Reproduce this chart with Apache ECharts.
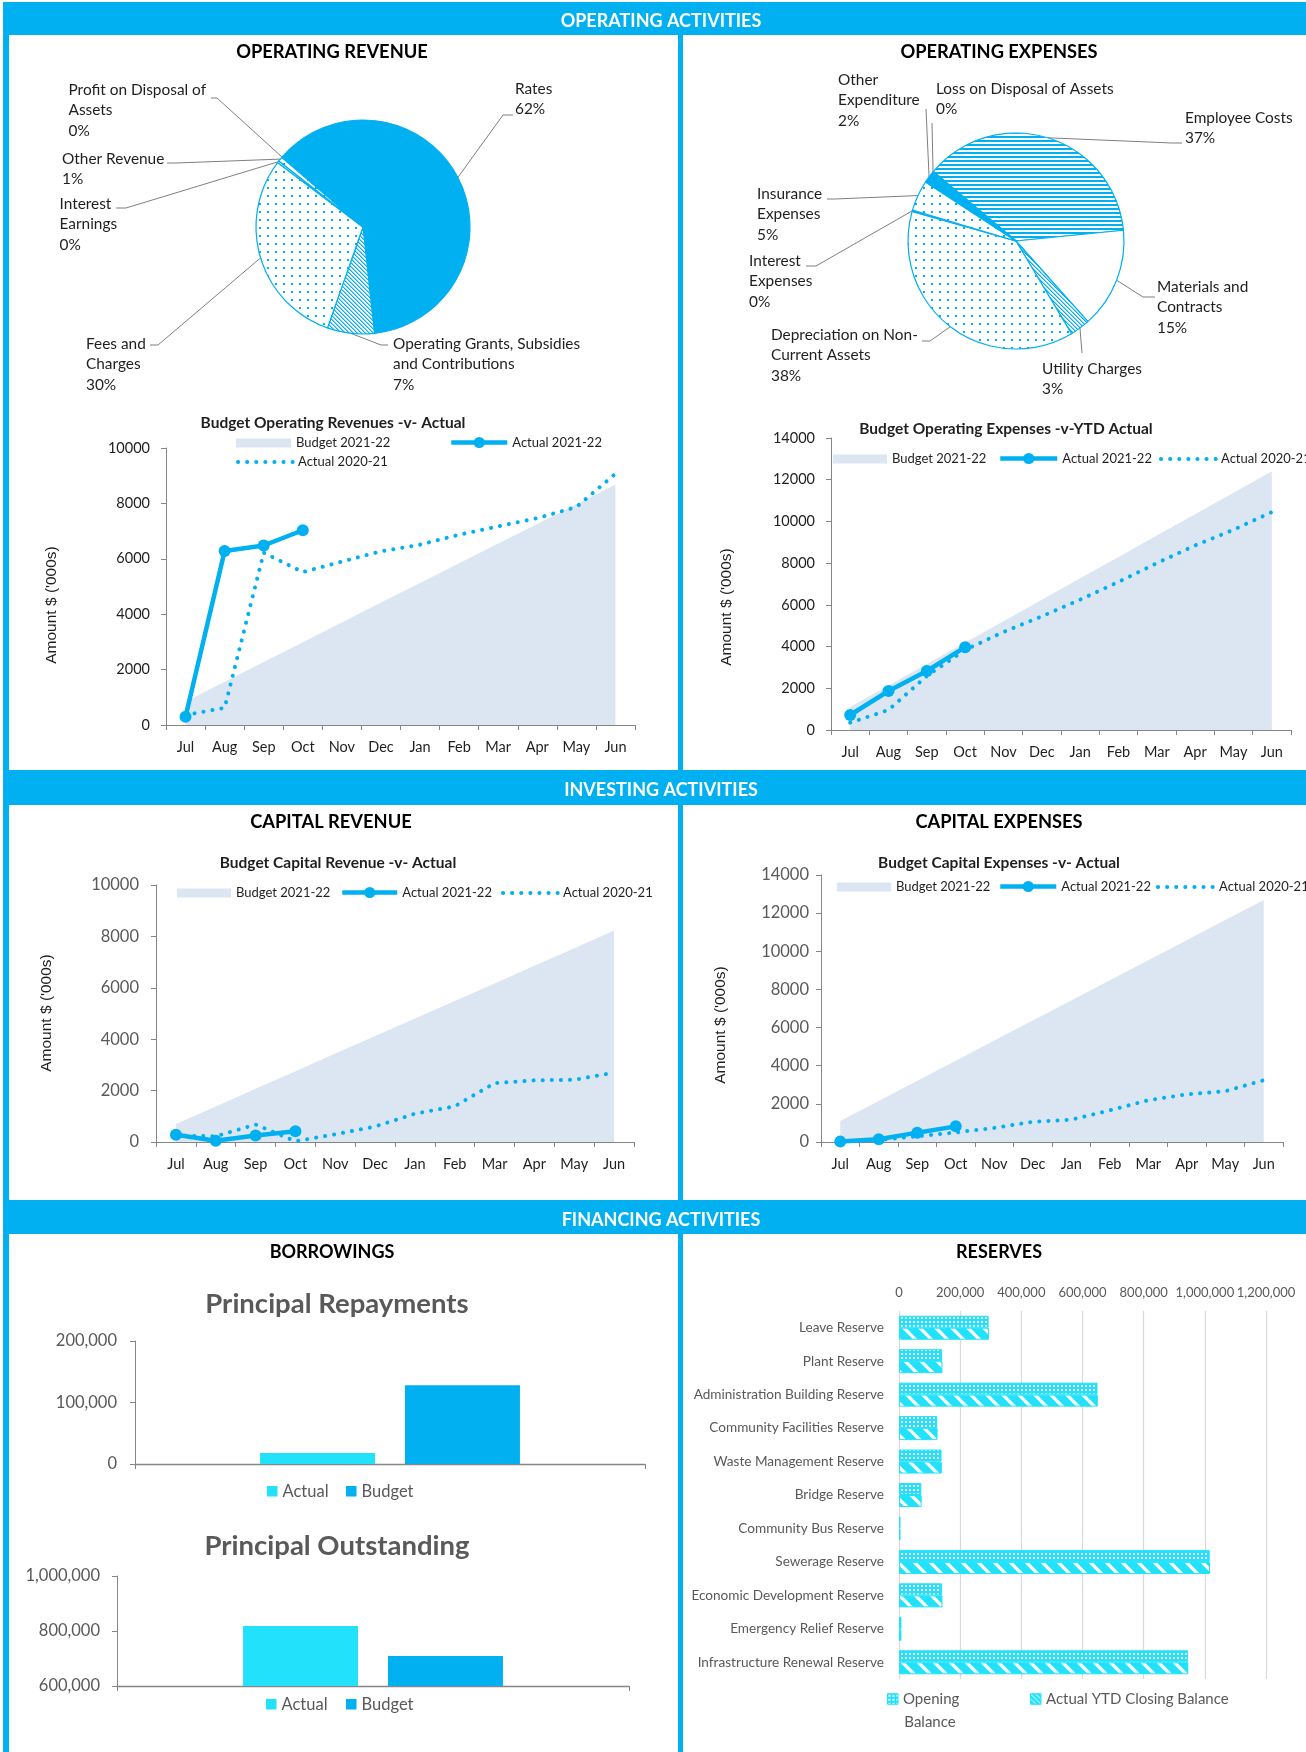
<!DOCTYPE html>
<html><head><meta charset="utf-8">
<script src="https://cdn.jsdelivr.net/npm/echarts/dist/echarts.min.js"></script>
<style>html,body{margin:0;padding:0;background:#fff}#c{width:1306px;height:1752px}</style>
</head><body><div id="c"></div><script>
// ---------------- DATA ----------------
const months = ['Jul','Aug','Sep','Oct','Nov','Dec','Jan','Feb','Mar','Apr','May','Jun'];

const revCats = ['Rates', 'Operating Grants, Subsidies\nand Contributions', 'Fees and\nCharges', 'Interest\nEarnings', 'Other Revenue', 'Profit on Disposal of\nAssets'];
const revShares = [61.9, 7.1, 29.9, 0.3, 0.7, 0.1];

const expCats = ['Employee Costs', 'Materials and\nContracts', 'Utility Charges', 'Depreciation on Non-\nCurrent Assets', 'Interest\nExpenses', 'Insurance\nExpenses', 'Other\nExpenditure', 'Loss on Disposal of Assets'];
const expShares = [37.3, 15.0, 3.0, 38.0, 0.2, 4.6, 1.8, 0.1];

const opRevBudget = [840, 1560, 2270, 2990, 3700, 4420, 5130, 5840, 6550, 7260, 7970, 8680];
const opRevActual = [300, 6280, 6480, 7030];
const opRevPrior  = [360, 620, 6220, 5520, 5900, 6270, 6510, 6870, 7170, 7470, 7870, 9070];

const opExpBudget = [1100, 2130, 3160, 4190, 5210, 6240, 7270, 8300, 9320, 10350, 11380, 12400];
const opExpActual = [720, 1870, 2830, 3970];
const opExpPrior  = [350, 960, 2590, 3840, 4700, 5450, 6250, 7100, 8000, 8850, 9600, 10450];

const capRevBudget = [700, 1380, 2070, 2750, 3440, 4120, 4810, 5490, 6170, 6860, 7540, 8230];
const capRevActual = [280, 50, 250, 420];
const capRevPrior  = [250, 220, 680, 30, 300, 600, 1100, 1390, 2290, 2400, 2420, 2700];

const capExpBudget = [1100, 2150, 3210, 4260, 5320, 6370, 7420, 8480, 9530, 10580, 11640, 12690];
const capExpActual = [20, 140, 490, 820];
const capExpPrior  = [20, 110, 300, 500, 740, 1060, 1170, 1660, 2190, 2500, 2660, 3240];

const repayActual = [18000];
const repayBudget = [128000];
const outstandingActual = [818000];
const outstandingBudget = [709000];

const reserveCats = ['Leave Reserve','Plant Reserve','Administration Building Reserve','Community Facilities Reserve','Waste Management Reserve','Bridge Reserve','Community Bus Reserve','Sewerage Reserve','Economic Development Reserve','Emergency Relief Reserve','Infrastructure Renewal Reserve'];
const reserveOpening = [293000, 141000, 649000, 125000, 139000, 73000, 5000, 1016000, 141000, 8000, 945000];
const reserveClosing = [294000, 142000, 650000, 126000, 140000, 74000, 5000, 1017000, 142000, 8000, 946000];

const opRevTicks = {min: 0, max: 10000, step: 2000};
const opExpTicks = {min: 0, max: 14000, step: 2000};
const capRevTicks = {min: 0, max: 10000, step: 2000};
const capExpTicks = {min: 0, max: 14000, step: 2000};
const repayTicks = {min: 0, max: 200000, step: 100000};
const outstTicks = {min: 600000, max: 1000000, step: 200000};
const reserveTicks = {min: 0, max: 1200000, step: 200000};

// ---------------- STYLE ----------------
const BLUE = '#00B0F0', CYAN = '#21E1FB', BUD = '#DCE6F2', AX = '#868686', GREY = '#595959', DARK = '#1f1f1f';
const F = 'Lato, "Open Sans", sans-serif';
const FA = '"Liberation Sans", Arial, sans-serif';

function pat(w, h, draw) {
  const c = document.createElement('canvas'); c.width = w; c.height = h;
  const g = c.getContext('2d'); draw(g); return {image: c, repeat: 'repeat'};
}
const pDots = pat(8, 8, g => { g.fillStyle = '#fff'; g.fillRect(0,0,8,8); g.fillStyle = BLUE; g.fillRect(3,3,2,2); });
const pHatch = pat(4, 4, g => { g.fillStyle = '#fff'; g.fillRect(0,0,4,4); g.fillStyle = BLUE; for (let i=0;i<4;i++) g.fillRect(i,i,1,1); g.globalAlpha=0.5; for (let i=0;i<4;i++) g.fillRect((i+1)%4,i,1,1); });
const pHoriz = pat(4, 4, g => { g.fillStyle = '#fff'; g.fillRect(0,0,4,4); g.fillStyle = BLUE; g.fillRect(0,0,4,2); });
const pResOpen = pat(4, 4, g => { g.fillStyle = CYAN; g.fillRect(0,0,4,4); g.fillStyle = '#fff'; g.fillRect(1,1,2,2); });
const pResClose = pat(16, 16, g => {
  g.fillStyle = '#fff'; g.fillRect(0,0,16,16);
  g.strokeStyle = CYAN; g.lineWidth = 8;
  for (let k=-16;k<=16;k+=16) { g.beginPath(); g.moveTo(k-4,-4); g.lineTo(k+20,20); g.stroke(); }
});
const pLegClose = pat(5, 5, g => {
  g.fillStyle = CYAN; g.fillRect(0,0,5,5); g.fillStyle = '#fff';
  for (let i=0;i<5;i++) g.fillRect(i,i,1,1);
});

const revFills = [BLUE, pHatch, pDots, '#fff', pDots, '#fff'];
const expFills = [pHoriz, '#fff', pHatch, pDots, '#fff', pDots, BLUE, '#fff'];

// label layout: [textLeft, firstLineCenterY, elbowX, elbowY, endX, endY]
const LH = 20.5;
const revLabelPos = [
  [515, 89, 503, 115, 513, 115],
  [393, 344, 381, 345, 388, 345],
  [86, 344, 158, 345, 150, 345],
  [59.5, 204, 126, 208, 116, 208],
  [62, 159, 176, 163, 167, 163],
  [68.5, 90, 217, 98, 211, 98]
];
const expLabelPos = [
  [1185, 118, 1172, 143, 1182, 143],
  [1157, 287, 1143, 297, 1155, 297],
  [1042, 369, 1082, 353, 1082, 353],
  [771, 335, 930, 341, 922, 341],
  [749, 261, 816, 266, 806, 266],
  [757, 194, 835, 199, 827, 199],
  [838, 80, 926, 109, 926, 109],
  [936, 89, 932, 123, 932, 123]
];
function mkLayout(pos) {
  return function (p) {
    const L = pos[p.dataIndex];
    const r = {x: L[0], y: L[1] - LH / 2, align: 'left', verticalAlign: 'top'};
    const pts = p.labelLinePoints;
    if (pts && pts[0]) r.labelLinePoints = [pts[0], [L[2], L[3]], [L[4], L[5]]];
    return r;
  };
}
function pie(center, r, start, cats, shares, fills, pos) {
  return {
    type: 'pie', center, radius: r, startAngle: start, clockwise: true, avoidLabelOverlap: false, silent: true,
    data: cats.map((n, i) => ({name: n, value: shares[i], itemStyle: {color: fills[i]}})),
    itemStyle: {borderColor: BLUE, borderWidth: 1.2},
    label: {show: true, position: 'outside', formatter: p => p.name + '\n' + Math.round(p.percent) + '%',
      fontSize: 15.4, lineHeight: LH, color: DARK, fontFamily: F},
    labelLine: {show: true, length: 6, length2: 6, lineStyle: {color: '#7f7f7f', width: 1}},
    labelLayout: mkLayout(pos),
    emphasis: {disabled: true}
  };
}

const plain = v => String(v);
const fmtNum = v => Number(v).toLocaleString('en-US');

function catAxis(gi) {
  return {gridIndex: gi, type: 'category', data: months, boundaryGap: true,
    axisLine: {show: true, lineStyle: {color: AX, width: 1}},
    axisTick: {show: true, length: 5, lineStyle: {color: AX}},
    axisLabel: {show: true, interval: 0, margin: 15, fontSize: 14.5, color: DARK, fontFamily: F},
    splitLine: {show: false}};
}
function valAxis(gi, t, size, color, margin, fmt) {
  return {gridIndex: gi, type: 'value', min: t.min, max: t.max, interval: t.step, startValue: t.min,
    axisLine: {show: true, lineStyle: {color: AX}},
    axisTick: {show: true, length: 5, lineStyle: {color: AX}},
    axisLabel: {fontSize: size, color, margin, fontFamily: F, formatter: fmt || plain},
    splitLine: {show: false}};
}
function lines(gi, budget, actual, prior) {
  return [
    {type: 'line', name: 'Budget 2021-22', xAxisIndex: gi, yAxisIndex: gi, data: budget, symbol: 'none',
      lineStyle: {width: 0}, itemStyle: {color: BUD}, areaStyle: {color: BUD, opacity: 1}, silent: true, z: 1},
    {type: 'line', name: 'Actual 2020-21', xAxisIndex: gi, yAxisIndex: gi, data: prior, symbol: 'none',
      lineStyle: {color: BLUE, width: 4, type: [0.1, 9], cap: 'round'}, itemStyle: {color: BLUE}, silent: true, z: 2},
    {type: 'line', name: 'Actual 2021-22', xAxisIndex: gi, yAxisIndex: gi, data: actual, symbol: 'circle', symbolSize: 12,
      showAllSymbol: true, lineStyle: {color: BLUE, width: 4.5}, itemStyle: {color: BLUE}, silent: true, z: 3}
  ];
}
function legLine(kind, left, cy, iw) {
  const base = {left, padding: 0, itemWidth: iw, selectedMode: false,
    textStyle: {fontSize: 13, color: DARK, fontFamily: F}};
  if (kind === 'b') return Object.assign(base, {top: cy - 6.5, itemHeight: 9,
    data: [{name: 'Budget 2021-22', icon: 'rect', itemStyle: {color: BUD, borderWidth: 0}}]});
  if (kind === 'a') return Object.assign(base, {top: cy - 7, itemHeight: 14, lineStyle: {width: 4.5},
    itemStyle: {borderWidth: 0}, data: [{name: 'Actual 2021-22'}]});
  return Object.assign(base, {top: cy - 6.5, itemHeight: 8, lineStyle: {width: 4, type: [0.1, 9], cap: 'round'},
    data: [{name: 'Actual 2020-21', itemStyle: {opacity: 0, borderWidth: 0}}]});
}
function legBar(name, left, cy, size, color, fmt, itemStyle) {
  return {left, top: cy - size / 2 - 1, padding: 0, itemWidth: 10.5, itemHeight: 10.5, selectedMode: false,
    icon: 'rect', itemStyle: itemStyle || {borderWidth: 0}, formatter: fmt || (n => n),
    textStyle: {fontSize: size, color, fontFamily: F}, data: [name]};
}
function txt(x, y, text, size, weight, color, family, rot) {
  return {type: 'text', x, y, rotation: rot || 0, z: 10, silent: true,
    style: {text, fontSize: size, fontWeight: weight, fill: color, fontFamily: family || F,
      align: 'center', verticalAlign: 'middle', textAlign: 'center', textVerticalAlign: 'middle'}};
}
function rect(x, y, w, h) { return {type: 'rect', shape: {x, y, width: w, height: h}, style: {fill: BLUE}, z: 5, silent: true}; }

const option = {
  animation: false,
  textStyle: {fontFamily: F},
  graphic: [
    rect(3, 2, 6, 1750),
    rect(3, 2, 1303, 33),
    rect(678, 35, 5, 1717),
    rect(3, 770, 1303, 35),
    rect(3, 1200, 1303, 34),
    txt(661, 21, 'OPERATING ACTIVITIES', 18, 'bold', '#fff'),
    txt(661, 790, 'INVESTING ACTIVITIES', 18, 'bold', '#fff'),
    txt(661, 1220, 'FINANCING ACTIVITIES', 18, 'bold', '#fff'),
    txt(332, 52, 'OPERATING REVENUE', 18.3, 'bold', '#000'),
    txt(999, 52, 'OPERATING EXPENSES', 18.3, 'bold', '#000'),
    txt(331, 822, 'CAPITAL REVENUE', 18.3, 'bold', '#000'),
    txt(999, 822, 'CAPITAL EXPENSES', 18.3, 'bold', '#000'),
    txt(332, 1252, 'BORROWINGS', 18, 'bold', '#000'),
    txt(999, 1252, 'RESERVES', 18, 'bold', '#000'),
    txt(333, 423, 'Budget Operating Revenues -v- Actual', 15.5, 'bold', DARK),
    txt(1006, 429, 'Budget Operating Expenses -v-YTD Actual', 15.5, 'bold', DARK),
    txt(338, 863, 'Budget Capital Revenue -v- Actual', 15.5, 'bold', DARK),
    txt(999, 863, 'Budget Capital Expenses -v- Actual', 15.5, 'bold', DARK),
    txt(337, 1304, 'Principal Repayments', 27.5, 'bold', GREY),
    txt(337, 1546, 'Principal Outstanding', 27.5, 'bold', GREY),
    txt(52, 605, "Amount $ ('000s)", 15.5, 'normal', DARK, FA, Math.PI / 2),
    txt(727, 607, "Amount $ ('000s)", 15.5, 'normal', DARK, FA, Math.PI / 2),
    txt(47, 1013, "Amount $ ('000s)", 15.5, 'normal', DARK, FA, Math.PI / 2),
    txt(721, 1025, "Amount $ ('000s)", 15.5, 'normal', DARK, FA, Math.PI / 2),
    txt(930, 1722, 'Balance', 15, 'normal', GREY)
  ],
  grid: [
    {left: 166, top: 448, width: 469, height: 277},
    {left: 831, top: 438, width: 460, height: 292},
    {left: 156, top: 885, width: 478, height: 257},
    {left: 821, top: 875, width: 462, height: 267},
    {left: 135, top: 1341, width: 510, height: 123},
    {left: 117, top: 1576, width: 512, height: 110},
    {left: 899, top: 1311, width: 367, height: 368}
  ].map(g => Object.assign(g, {containLabel: false, outerBoundsMode: 'none'})),
  xAxis: [
    catAxis(0), catAxis(1), catAxis(2), catAxis(3),
    {gridIndex: 4, type: 'category', data: [''], axisLine: {show: true, lineStyle: {color: AX, width: 1.3}},
      axisTick: {show: true, length: 5, lineStyle: {color: AX}}, axisLabel: {show: false}, splitLine: {show: false}},
    {gridIndex: 5, type: 'category', data: [''], axisLine: {show: true, lineStyle: {color: AX, width: 1.3}},
      axisTick: {show: true, length: 5, lineStyle: {color: AX}}, axisLabel: {show: false}, splitLine: {show: false}},
    {gridIndex: 6, type: 'value', position: 'top', min: reserveTicks.min, max: reserveTicks.max, interval: reserveTicks.step,
      axisLine: {show: false}, axisTick: {show: false},
      axisLabel: {formatter: fmtNum, fontSize: 13, color: GREY, margin: 12, fontFamily: F},
      splitLine: {show: true, lineStyle: {color: '#D9D9D9', width: 1.2}}}
  ],
  yAxis: [
    valAxis(0, opRevTicks, 14.5, DARK, 16),
    valAxis(1, opExpTicks, 14.5, DARK, 16),
    valAxis(2, capRevTicks, 16.5, GREY, 17),
    valAxis(3, capExpTicks, 16.5, GREY, 12),
    valAxis(4, repayTicks, 16.5, GREY, 18, fmtNum),
    valAxis(5, outstTicks, 16.5, GREY, 17, fmtNum),
    {gridIndex: 6, type: 'category', inverse: true, data: reserveCats, axisLine: {show: false}, axisTick: {show: false},
      axisLabel: {interval: 0, fontSize: 13.6, color: GREY, margin: 15, fontFamily: F}, splitLine: {show: false}}
  ],
  legend: [
    legLine('b', 236, 443, 55), legLine('a', 449, 443, 56), legLine('p', 236, 462, 55),
    legLine('b', 833, 459, 54), legLine('a', 998, 459, 57), legLine('p', 1159, 459, 55),
    legLine('b', 177, 893, 54), legLine('a', 340, 893, 55), legLine('p', 501, 893, 55),
    legLine('b', 837, 887, 54), legLine('a', 998, 887, 56), legLine('p', 1156, 887, 56),
    legBar('Actual', 267, 1492, 16.5, GREY), legBar('Budget', 346, 1492, 16.5, GREY),
    legBar('Actual', 266, 1705, 16.5, GREY), legBar('Budget', 346, 1705, 16.5, GREY),
    legBar('Opening Balance', 887, 1700, 15, GREY, n => 'Opening', {borderColor: CYAN, borderWidth: 1}),
    legBar('Actual YTD Closing Balance', 1030, 1700, 15, GREY, null, {color: pLegClose, borderColor: CYAN, borderWidth: 1})
  ],
  series: [
    pie([363, 227], 107, 139, revCats, revShares, revFills, revLabelPos),
    pie([1016, 241], 108, 140, expCats, expShares, expFills, expLabelPos),
    ...lines(0, opRevBudget, opRevActual, opRevPrior),
    ...lines(1, opExpBudget, opExpActual, opExpPrior),
    ...lines(2, capRevBudget, capRevActual, capRevPrior),
    ...lines(3, capExpBudget, capExpActual, capExpPrior),
    {type: 'bar', name: 'Actual', xAxisIndex: 4, yAxisIndex: 4, data: repayActual, barWidth: 115, barGap: '26%', itemStyle: {color: CYAN}, silent: true},
    {type: 'bar', name: 'Budget', xAxisIndex: 4, yAxisIndex: 4, data: repayBudget, barWidth: 115, barGap: '26%', itemStyle: {color: BLUE}, silent: true},
    {type: 'bar', name: 'Actual', xAxisIndex: 5, yAxisIndex: 5, data: outstandingActual, barWidth: 115, barGap: '26%', itemStyle: {color: CYAN}, silent: true},
    {type: 'bar', name: 'Budget', xAxisIndex: 5, yAxisIndex: 5, data: outstandingBudget, barWidth: 115, barGap: '26%', itemStyle: {color: BLUE}, silent: true},
    {type: 'bar', name: 'Opening Balance', xAxisIndex: 6, yAxisIndex: 6, data: reserveOpening, barWidth: 12, barGap: '0%',
      itemStyle: {color: pResOpen, borderColor: CYAN, borderWidth: 1}, silent: true},
    {type: 'bar', name: 'Actual YTD Closing Balance', xAxisIndex: 6, yAxisIndex: 6, data: reserveClosing, barWidth: 12, barGap: '0%',
      itemStyle: {color: pResClose, borderColor: CYAN, borderWidth: 1}, silent: true}
  ]
};
const chart = echarts.init(document.getElementById('c'), null, {renderer: 'canvas', width: 1306, height: 1752});
chart.setOption(option);
</script></body></html>
